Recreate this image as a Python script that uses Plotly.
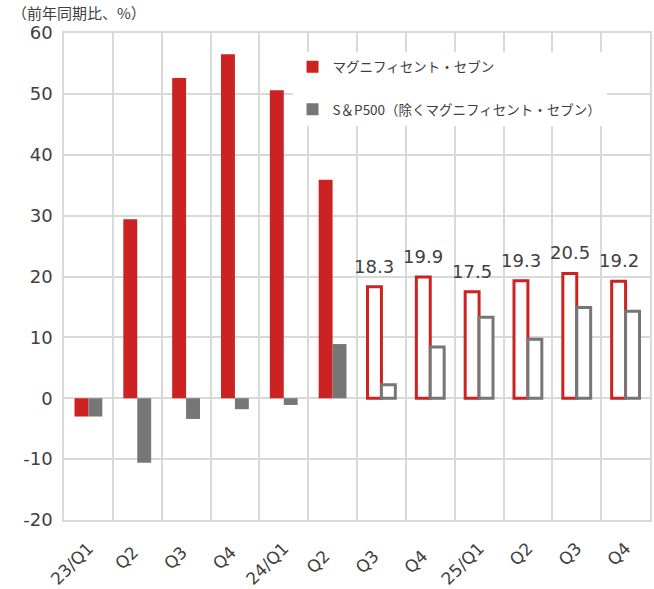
import plotly.graph_objects as go

categories = ["23/Q1", "Q2 ", "Q3 ", "Q4 ", "24/Q1", "Q2  ", "Q3  ", "Q4  ", "25/Q1", "Q2", "Q3", "Q4"]
mag7 = [-3.0, 29.4, 52.6, 56.5, 50.6, 35.9, 18.3, 19.9, 17.5, 19.3, 20.5, 19.2]
sp493 = [-3.0, -10.6, -3.4, -1.8, -1.1, 8.9, 2.2, 8.4, 13.3, 9.7, 14.9, 14.3]
is_forecast = [False] * 6 + [True] * 6
y_ticks = [-20, -10, 0, 10, 20, 30, 40, 50, 60]
y_tick_labels = ["-20", "-10", "0", "10", "20", "30", "40", "50", "60"]

RED = "#CC2222"
GRAY = "#767676"

def fills(color):
    return ["white" if f else color for f in is_forecast]

def widths():
    return [3 if f else 0 for f in is_forecast]

fig = go.Figure()
fig.add_trace(go.Bar(
    x=categories, y=mag7, name="マグニフィセント・セブン",
    marker=dict(color=fills(RED), line=dict(color=RED, width=widths())),
    legendgroup="a",
))
fig.add_trace(go.Bar(
    x=categories, y=sp493, name="S＆P500（除くマグニフィセント・セブン）",
    marker=dict(color=fills(GRAY), line=dict(color=GRAY, width=widths())),
    legendgroup="b",
))

annotations = []
for c, v, f in zip(categories, mag7, is_forecast):
    if f:
        annotations.append(dict(
            x=c, y=v, xref="x", yref="y", text=f"{v:.1f}", showarrow=False,
            yanchor="bottom", xanchor="center", yshift=8, xshift=-7,
            font=dict(family="DejaVu Sans", size=18, color="#404040"),
        ))
annotations.append(dict(
    x=-0.092, y=1.068, xref="paper", yref="paper", text="（前年同期比、%）",
    showarrow=False, xanchor="left", yanchor="top",
    font=dict(family="Noto Sans CJK JP", size=15, color="#404040"),
))

fig.update_layout(
    width=654, height=589,
    margin=dict(l=64, r=4, t=33, b=69),
    paper_bgcolor="white", plot_bgcolor="white",
    barmode="group", bargap=0.43, bargroupgap=0,
    showlegend=True,
    legend=dict(
        x=0.39, y=0.962, xanchor="left", yanchor="top",
        bgcolor="white", borderwidth=0,
        font=dict(family="Noto Sans CJK JP", size=13.5, color="#404040"),
        tracegroupgap=22, traceorder="grouped",
    ),
    annotations=annotations,
    xaxis=dict(
        type="category", tickson="boundaries", showgrid=True, automargin=False,
        gridcolor="#D9D9D9", gridwidth=1.5,
        showline=True, linecolor="#D9D9D9", linewidth=1.5, mirror=True,
        ticks="", tickangle=-45, ticklabelstandoff=10,
        tickfont=dict(family="DejaVu Sans", size=17, color="#404040"),
    ),
    yaxis=dict(
        range=[-20, 60], tickvals=y_ticks, ticktext=y_tick_labels,
        showgrid=True, automargin=False,
        gridcolor="#D9D9D9", gridwidth=1.5,
        zeroline=True, zerolinecolor="#D9D9D9", zerolinewidth=1.5,
        showline=True, linecolor="#D9D9D9", linewidth=1.5, mirror=True,
        ticks="", ticklabelstandoff=6,
        tickfont=dict(family="DejaVu Sans", size=18, color="#404040"),
    ),
)

fig.write_html(
    "out.html",
    config={"displayModeBar": False},
    post_script="document.body.style.margin='0';document.body.style.overflow='hidden';",
)
